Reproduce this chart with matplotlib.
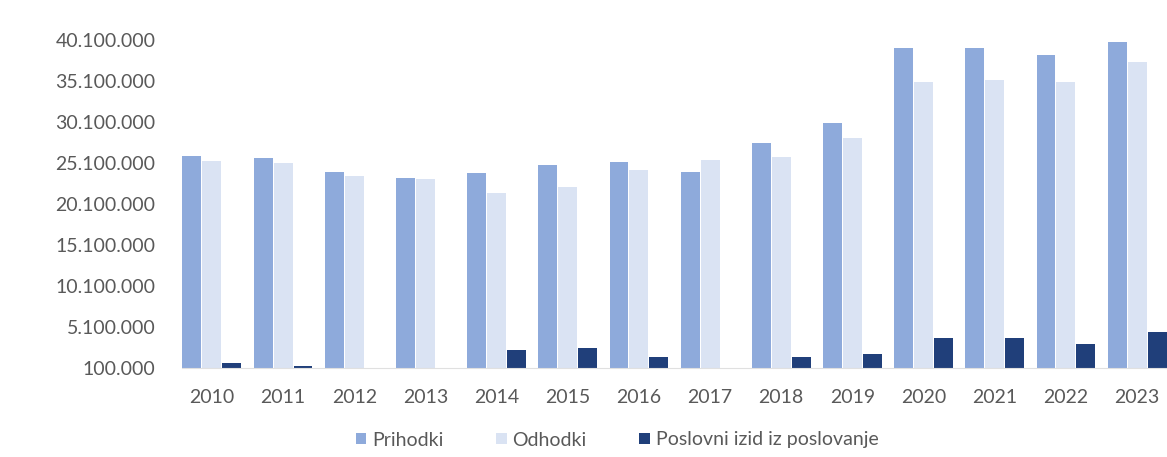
import matplotlib.pyplot as plt
import numpy as np
from matplotlib.ticker import FuncFormatter

plt.rcParams['font.family'] = ['Lato', 'DejaVu Sans']

years = ['2010', '2011', '2012', '2013', '2014', '2015', '2016',
         '2017', '2018', '2019', '2020', '2021', '2022', '2023']
prihodki = [26.0e6, 25.7e6, 24.0e6, 23.3e6, 23.9e6, 24.9e6, 25.2e6,
            24.0e6, 27.5e6, 30.0e6, 39.1e6, 39.1e6, 38.3e6, 39.9e6]
odhodki = [25.3e6, 25.1e6, 23.5e6, 23.2e6, 21.4e6, 22.2e6, 24.2e6,
           25.5e6, 25.8e6, 28.1e6, 35.0e6, 35.2e6, 35.0e6, 37.4e6]
izid = [0.7e6, 0.4e6, 0.05e6, 0.05e6, 2.3e6, 2.5e6, 1.4e6,
        0.05e6, 1.4e6, 1.8e6, 3.8e6, 3.8e6, 3.0e6, 4.5e6]
labels = ['Prihodki', 'Odhodki', 'Poslovni izid iz poslovanje']
colors = ['#8eaadb', '#dae3f3', '#203f7a']

base = 100000
fig = plt.figure(figsize=(11.67, 4.57), dpi=100)
ax = fig.add_axes([182 / 1167, 89 / 457, 985 / 1167, 328 / 457])

x = np.arange(len(years))
w = 0.28
for i, (vals, lab, col) in enumerate(zip([prihodki, odhodki, izid], labels, colors)):
    v = np.array(vals)
    ax.bar(x + (i - 1) * w, v - base, w * 0.95, bottom=base, color=col, label=lab)

ax.set_xlim(-1.5 * w, len(years) - 1 + 1.5 * w)
ax.set_ylim(base, 40100000)
ax.set_yticks(np.arange(base, 40100001, 5000000))
ax.yaxis.set_major_formatter(FuncFormatter(lambda v, p: f'{int(round(v)):,}'.replace(',', '.')))
ax.set_xticks(x)
ax.set_xticklabels(years)
ax.tick_params(axis='y', length=0, pad=19, labelsize=14, labelcolor='#595959')
ax.tick_params(axis='x', length=0, pad=15, labelsize=14, labelcolor='#595959')
for s in ['top', 'right', 'left']:
    ax.spines[s].set_visible(False)
ax.spines['bottom'].set_color('#e0e0e0')

fig.legend(loc='center', bbox_to_anchor=(617 / 1167, 1 - 440 / 457), ncol=3,
           frameon=False, fontsize=14, labelcolor='#595959',
           handlelength=0.55, handleheight=0.55, handletextpad=0.3, columnspacing=2.7)

fig.savefig('out.png', dpi=100)
